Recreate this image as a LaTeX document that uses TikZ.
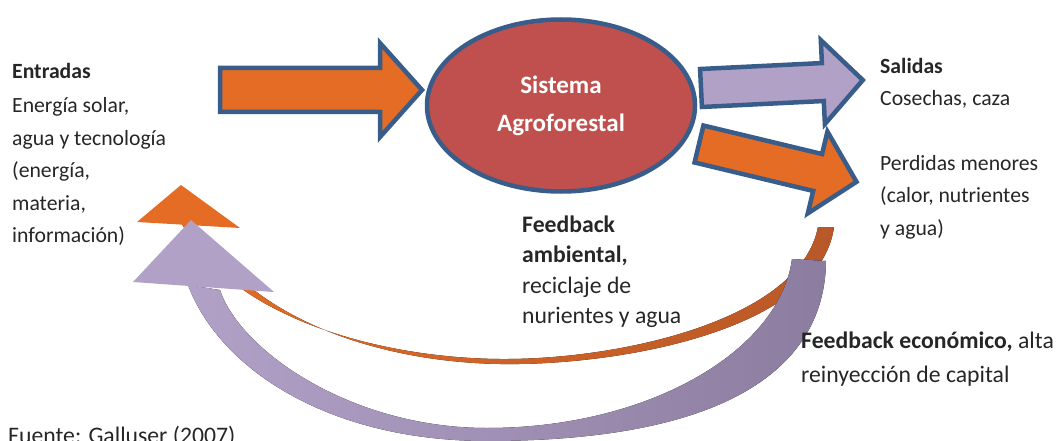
\documentclass[tikz,border=0pt]{standalone}
\usepackage{fontspec}
\setmainfont{Carlito}
\usepackage{tikz}
\usetikzlibrary{shapes.geometric, positioning}
\definecolor{sysred}{RGB}{192,80,77}
\definecolor{edgeblue}{RGB}{56,93,138}
\definecolor{flowor}{RGB}{228,108,36}
\definecolor{flowpu}{RGB}{178,161,199}
\definecolor{darkor}{RGB}{184,88,40}
\definecolor{darkpu}{RGB}{140,125,160}
\definecolor{txtgray}{RGB}{38,38,38}

\tikzset{
	blockarrow/.style={draw=edgeblue, line width=4.5pt, line join=miter},
	bodytext/.style={font=\fontsize{21.7}{32.5}\selectfont, text=txtgray, align=left, inner sep=0pt, anchor=north west},
}

\begin{document}
\begin{tikzpicture}[x=1pt, y=-1pt]
				\useasboundingbox (0,0) rectangle (1058,441);
				\clip (0,0) rectangle (1058,441);
				\pgfmathsetmacro{\shaft}{122}
				\pgfmathsetmacro{\headlen}{40}
				\pgfmathsetmacro{\halfw}{19}
				\pgfmathsetmacro{\headw}{42}
				
				% feedback ambiental
				\fill[left color=flowor, middle color=flowor, right color=darkor] (834,227) .. controls (820,330) and (620,366) .. (500,364) .. controls (380,362) and (250,320) .. (196,225) -- (182,224) .. controls (232,318) and (380,358) .. (500,359) .. controls (620,360) and (800,320) .. (818,227) -- cycle;
				\fill[flowor] (181,185) -- (137,222) -- (240,228) -- cycle;
				
				% feedback economico
				\fill[left color=flowpu, middle color=flowpu, right color=darkpu] (826,261) .. controls (825,360) and (740,441) .. (487,441) .. controls (330,441) and (220,370) .. (188,285) -- (220,290) .. controls (240,350) and (350,428) .. (487,428) .. controls (650,428) and (780,350) .. (792,259) -- cycle;
				\fill[flowpu] (191,220) -- (133,282) -- (274,292) -- cycle;
				
				% entrada
				\draw[blockarrow, fill=flowor] (220,68) -- ++(160,0) -- ++(0,-25) -- (422,90) -- (380,137) -- ++(0,-25) -- ++(-160,0) -- cycle;
				
				% salidas
				\begin{scope}[shift={(701,88)}, rotate=2.8]
				\draw[blockarrow, fill=flowpu] (0,-\halfw) -- ++(\shaft,0) -- (\shaft,-\headw) -- (\shaft+\headlen,0) -- (\shaft,\headw) -- (\shaft,\halfw) -- (0,\halfw) -- cycle;
				\end{scope}
				\begin{scope}[shift={(699,144)}, rotate=-13.5]
				\draw[blockarrow, fill=flowor] (0,-\halfw) -- ++(\shaft,0) -- (\shaft,-\headw) -- (\shaft+\headlen,0) -- (\shaft,\headw) -- (\shaft,\halfw) -- (0,\halfw) -- cycle;
				\end{scope}
				
				\node[ellipse, draw=edgeblue, line width=4.5pt, fill=sysred, minimum width=268, minimum height=172, inner sep=0pt, text=white, align=center, font=\fontsize{25}{38}\selectfont\bfseries] (sistema) at (561,105.5) {Sistema\\Agroforestal};
				
				\node[bodytext] (entradas) at (12,63) {\textbf{Entradas}\\[2pt]Energía solar,\\agua y tecnología\\(energía,\\materia,\\información)};
				\node[bodytext] (salidas) at (880,58) {\textbf{Salidas}\\Cosechas, caza};
				\node[bodytext] (perdidas) at (880,155) {Perdidas menores\\(calor, nutrientes\\y agua)};
				\node[bodytext, font=\fontsize{23.7}{30.5}\selectfont] (fbamb) at (522,215.5) {\textbf{Feedback}\\\textbf{ambiental,}\\reciclaje de\\nurientes y agua};
				\node[bodytext, font=\fontsize{23.7}{34}\selectfont] (fbeco) at (801,331.5) {\textbf{Feedback económico,} alta\\reinyección de capital};
				\node[anchor=base west, inner sep=0pt, text=txtgray, font=\fontsize{23.7}{28}\selectfont] (fuente) at (8,443) {Fuente: Galluser (2007)};
\end{tikzpicture}
\end{document}
